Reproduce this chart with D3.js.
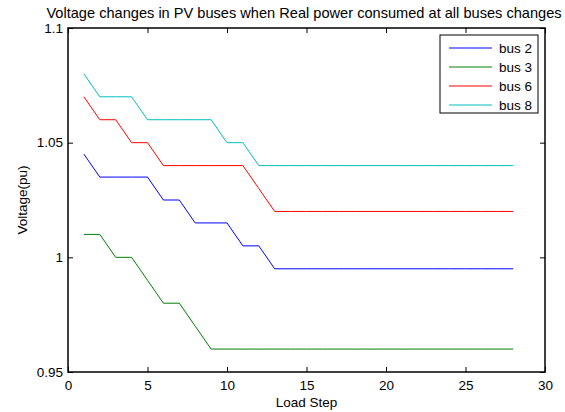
<!DOCTYPE html>
<html>
<head>
<meta charset="utf-8">
<script src="https://cdn.jsdelivr.net/npm/d3@7"></script>
<style>
  body { margin: 0; background: #fff; }
  text { font-family: 'Liberation Sans', Arial, sans-serif; }
</style>
</head>
<body>
<div id="chart"></div>
<script>
// Load steps 1..28
const steps = d3.range(1, 29)
const bus2 = [1.045, 1.035, 1.035, 1.035, 1.035, 1.025, 1.025, 1.015, 1.015, 1.015, 1.005, 1.005,
  0.995, 0.995, 0.995, 0.995, 0.995, 0.995, 0.995, 0.995, 0.995, 0.995, 0.995, 0.995, 0.995, 0.995, 0.995, 0.995]
const bus3 = [1.01, 1.01, 1.0, 1.0, 0.99, 0.98, 0.98, 0.97, 0.96, 0.96, 0.96, 0.96,
  0.96, 0.96, 0.96, 0.96, 0.96, 0.96, 0.96, 0.96, 0.96, 0.96, 0.96, 0.96, 0.96, 0.96, 0.96, 0.96]
const bus6 = [1.07, 1.06, 1.06, 1.05, 1.05, 1.04, 1.04, 1.04, 1.04, 1.04, 1.04, 1.03,
  1.02, 1.02, 1.02, 1.02, 1.02, 1.02, 1.02, 1.02, 1.02, 1.02, 1.02, 1.02, 1.02, 1.02, 1.02, 1.02]
const bus8 = [1.08, 1.07, 1.07, 1.07, 1.06, 1.06, 1.06, 1.06, 1.06, 1.05, 1.05, 1.04,
  1.04, 1.04, 1.04, 1.04, 1.04, 1.04, 1.04, 1.04, 1.04, 1.04, 1.04, 1.04, 1.04, 1.04, 1.04, 1.04]
const seriesNames = ['bus 2', 'bus 3', 'bus 6', 'bus 8']
const seriesValues = [bus2, bus3, bus6, bus8]
const colors = ['#0000ff', '#008000', '#ff0000', '#00bfbf']
const xTicks = [0, 5, 10, 15, 20, 25, 30]
const yTicks = [0.95, 1, 1.05, 1.1]

const W = 565
const H = 412
const margin = { top: 28, right: 20, bottom: 40, left: 68 }
const width = W - margin.left - margin.right
const height = H - margin.top - margin.bottom
const fs = 13.5

const svg = d3.select('#chart').append('svg')
  .attr('width', W)
  .attr('height', H)

const g = svg.append('g')
  .attr('transform', `translate(${margin.left},${margin.top})`)

const x = d3.scaleLinear().domain([0, 30]).range([0, width])
const y = d3.scaleLinear().domain([0.95, 1.1]).range([height, 0])

// Axes with inward ticks, MATLAB style box
const tickLen = 5
const xAxis = g.append('g')
  .attr('transform', `translate(0,${height})`)
  .call(d3.axisBottom(x).tickValues(xTicks).tickSize(-tickLen).tickPadding(8).tickFormat(d3.format('d')))
const xAxisTop = g.append('g')
  .call(d3.axisTop(x).tickValues(xTicks).tickSize(-tickLen).tickFormat(''))
const yAxis = g.append('g')
  .call(d3.axisLeft(y).tickValues(yTicks).tickSize(-tickLen).tickPadding(5).tickFormat(d => String(+d.toFixed(2))))
const yAxisRight = g.append('g')
  .attr('transform', `translate(${width},0)`)
  .call(d3.axisRight(y).tickValues(yTicks).tickSize(-tickLen).tickFormat(''))

;[xAxis, xAxisTop, yAxis, yAxisRight].forEach(a => {
  a.select('.domain').remove()
  a.selectAll('line').attr('stroke', '#000')
  a.selectAll('text').attr('font-size', fs).attr('fill', '#000')
})

g.append('rect')
  .attr('width', width)
  .attr('height', height)
  .attr('fill', 'none')
  .attr('stroke', '#000')
  .attr('stroke-width', 1.5)

// Lines
const line = d3.line()
  .x((d, i) => x(steps[i]))
  .y(d => y(d))

g.append('g')
  .selectAll('path')
  .data(seriesValues)
  .enter().append('path')
  .attr('d', line)
  .attr('fill', 'none')
  .attr('stroke', (d, i) => colors[i])
  .attr('stroke-width', 1)

// Legend
const legend = g.append('g')
  .attr('transform', `translate(${372},${7})`)
legend.append('rect')
  .attr('width', 98)
  .attr('height', 78)
  .attr('fill', '#fff')
  .attr('stroke', '#000')
const items = legend.selectAll('.item')
  .data(seriesNames)
  .enter().append('g')
  .attr('transform', (d, i) => `translate(0,${13 + i * 19})`)
items.append('line')
  .attr('x1', 9).attr('x2', 52)
  .attr('stroke', (d, i) => colors[i])
items.append('text')
  .attr('x', 59)
  .attr('dy', '0.35em')
  .attr('font-size', fs)
  .text(d => d)

// Title and labels
svg.append('text')
  .attr('x', 304)
  .attr('y', 18)
  .attr('text-anchor', 'middle')
  .attr('font-size', 14.6)
  .text('Voltage changes in PV buses when Real power consumed at all buses changes')

svg.append('text')
  .attr('x', margin.left + width / 2)
  .attr('y', 407)
  .attr('text-anchor', 'middle')
  .attr('font-size', fs)
  .text('Load Step')

svg.append('text')
  .attr('transform', `translate(27,${margin.top + height / 2}) rotate(-90)`)
  .attr('text-anchor', 'middle')
  .attr('font-size', fs)
  .text('Voltage(pu)')
</script>
</body>
</html>
